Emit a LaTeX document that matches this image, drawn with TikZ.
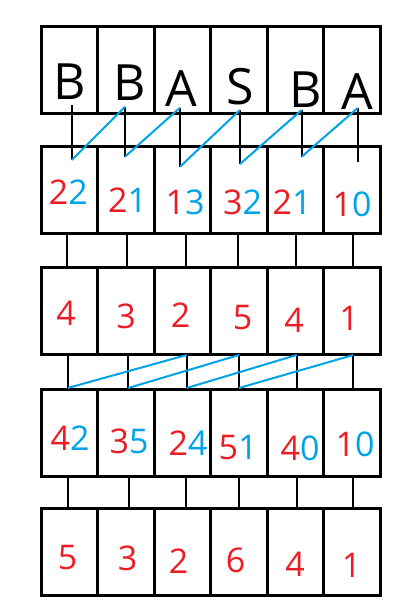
\documentclass[tikz,border=0pt]{standalone}
\usepackage{fontspec}
\setmainfont{Open Sans}
\usetikzlibrary{positioning}
\definecolor{numred}{HTML}{ED1C24}
\definecolor{numblue}{HTML}{00A2E8}
\newcommand{\rb}[2]{\textcolor{numred}{#1}\textcolor{numblue}{#2}}
\tikzset{
    %Define style for boxes
    cell/.style={
           rectangle,
           draw=black, line width=3pt,
           minimum width=56.5pt,
           minimum height=87pt,
           inner sep=0pt, outer sep=0pt},
    letter/.style={
           font=\fontsize{50}{50}\selectfont,
           text=black, inner sep=0pt},
    digit/.style={
           font=\fontsize{34}{34}\selectfont,
           text=numred, inner sep=0pt},
    % Define line styles
    link/.style={draw=black, line width=2pt},
    cross/.style={draw=numblue, line width=2pt}
}
\begin{document}
\begin{tikzpicture}[x=1pt,y=-1pt]
\useasboundingbox (0,0) rectangle (409,612);
 %boxes
\foreach \r/\y in {1/70.5, 2/190, 3/311, 4/432.5, 5/551.5}
  \foreach \c in {1,...,6}
    \node[cell] (r\r c\c) at ({41+56.5*(\c-0.5)},\y) {};
 %ends of the links
\foreach \i/\x/\ya/\yb in {1/71.7/105/160, 2/125/106.7/156.7, 3/180/107.7/166.7,
    4/240/110/164, 5/301.7/110/156.7, 6/357.7/108/161.7}
  {\coordinate (a\i) at (\x,\ya); \coordinate (b\i) at (\x,\yb);}
\foreach \i/\x in {1/66.7, 2/127.3, 3/185.7, 4/237.7, 5/296, 6/352.7}
  {\coordinate (c\i) at (\x,233); \coordinate (d\i) at (\x,268);}
\foreach \i/\x in {1/67.7, 2/128.3, 3/186.7, 4/239, 5/296.7, 6/353.3}
  {\coordinate (e\i) at (\x,355); \coordinate (f\i) at (\x,388);}
\foreach \i/\x in {1/67.7, 2/129, 3/186, 4/239, 5/296.7, 6/353.3}
  {\coordinate (g\i) at (\x,476); \coordinate (h\i) at (\x,508);}
 %links
\foreach \i in {1,...,6} {
  \draw[link] (a\i) -- (b\i);
  \draw[link] (c\i) -- (d\i);
  \draw[link] (e\i) -- (f\i);
  \draw[link] (g\i) -- (h\i);
}
\foreach \i [evaluate=\i as \j using int(\i+1)] in {1,...,5}
  \draw[cross] (b\i) -- (a\j);
\foreach \i [evaluate=\i as \j using int(\i+2)] in {1,...,4}
  \draw[cross] (f\i) -- (e\j);
 %texts
\foreach \i/\x/\y/\t in {1/70/81.7/B, 2/129.5/82.5/B, 3/181/89/A,
    4/240/86.7/S, 5/305.5/90/B, 6/357/91.5/A}
  \node[letter] (w\i) at (\x,\y) {\t};
\foreach \i/\x/\y/\a/\b in {1/68.3/192.5/2/2, 2/127.5/199.7/2/1, 3/185/202.5/1/3,
    4/242.5/202.5/3/2, 5/292/201.7/2/1, 6/352/204/1/0}
  \node[digit] (s\i) at (\x,\y) {\rb{\a}{\b}};
\foreach \i/\x/\y/\t in {1/66/313/4, 2/126/316.7/3, 3/180.5/315/2,
    4/242.5/317.5/5, 5/294/320/4, 6/349/318/1}
  \node[digit] (n\i) at (\x,\y) {\t};
\foreach \i/\x/\y/\a/\b in {1/70/438/4/2, 2/129/441/3/5, 3/188/443/2/4,
    4/238/447.5/5/1, 5/300/448/4/0, 6/355/444/1/0}
  \node[digit] (t\i) at (\x,\y) {\rb{\a}{\b}};
\foreach \i/\x/\y/\t in {1/67.5/557.5/5, 2/127.5/558.7/3, 3/178.7/560.8/2,
    4/235.5/560.8/6, 5/295/564/4, 6/351.7/565.8/1}
  \node[digit] (m\i) at (\x,\y) {\t};
\end{tikzpicture}
\end{document}
